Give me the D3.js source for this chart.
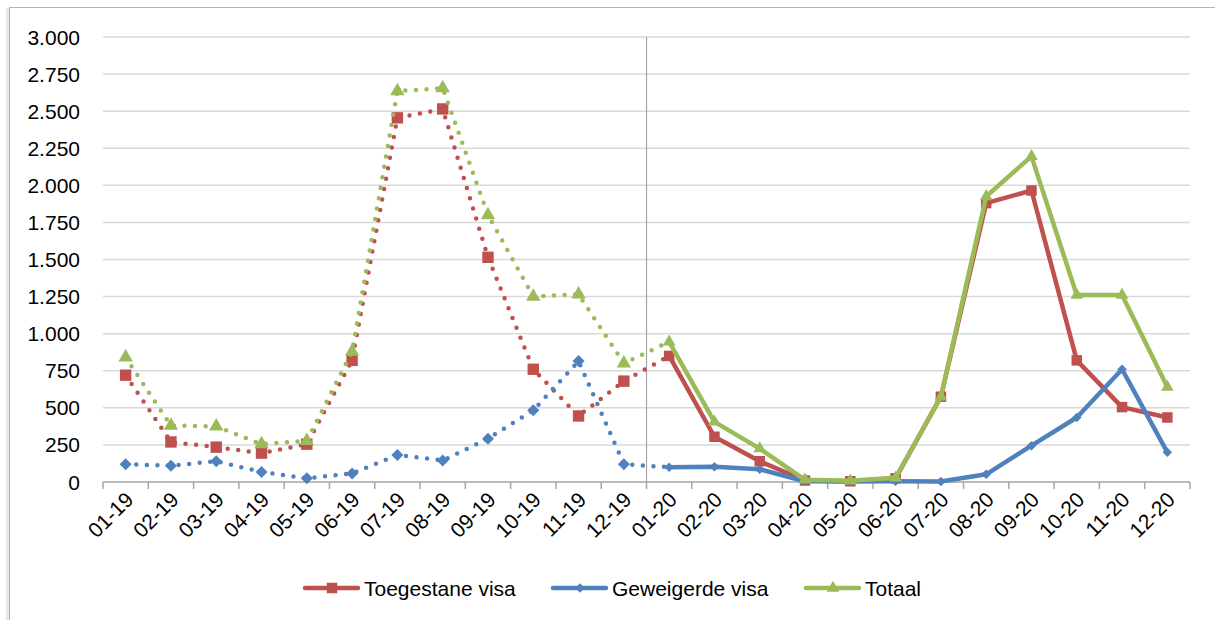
<!DOCTYPE html>
<html>
<head>
<meta charset="utf-8">
<script src="https://cdn.jsdelivr.net/npm/d3@7"></script>
<style>
  body { margin: 0; background: #fff; }
  text { font-family: "Liberation Sans", Arial, sans-serif; fill: #000; }
</style>
</head>
<body>
<svg id="chart"></svg>
<script>
const width = 1215;
const height = 620;

const months = ["01-19", "02-19", "03-19", "04-19", "05-19", "06-19", "07-19", "08-19", "09-19", "10-19", "11-19", "12-19",
                "01-20", "02-20", "03-20", "04-20", "05-20", "06-20", "07-20", "08-20", "09-20", "10-20", "11-20", "12-20"];

const toegestane = [720, 270, 235, 195, 255, 820, 2455, 2515, 1515, 760, 445, 680,
                    850, 305, 140, 10, 5, 25, 575, 1880, 1965, 820, 505, 435];
const geweigerd = [120, 110, 140, 68, 25, 58, 182, 145, 292, 483, 815, 120,
                   100, 103, 86, 5, 3, 5, 3, 52, 245, 435, 760, 200];
const totaal = [840, 380, 375, 255, 278, 880, 2635, 2655, 1800, 1250, 1265, 800,
                945, 405, 225, 15, 8, 28, 575, 1925, 2195, 1260, 1260, 640];

const yTicks = [0, 250, 500, 750, 1000, 1250, 1500, 1750, 2000, 2250, 2500, 2750, 3000];

const series = [
  {name: "Toegestane visa", values: toegestane, color: "#C0504D", symbol: d3.symbolSquare, size: 130, size2: 110, rot: 0},
  {name: "Geweigerde visa", values: geweigerd, color: "#4F81BD", symbol: d3.symbolSquare, size: 72, size2: 45, rot: 45},
  {name: "Totaal", values: totaal, color: "#9BBB59", symbol: d3.symbolTriangle, size: 90, size2: 70, rot: 0}
];

const svg = d3.select("#chart")
              .attr("width", width)
              .attr("height", height);

// chart frame with a soft shadow on the left
svg.append("rect")
   .attr("x", 6).attr("y", 8).attr("width", 4).attr("height", 700)
   .style("fill", "#e6e6e6");
svg.append("rect")
   .attr("x", 9.5).attr("y", 7.5).attr("width", 1300).attr("height", 700)
   .style("fill", "#fff")
   .style("stroke", "#b3b3b3");

const margin = {top: 37, right: 25, bottom: 138, left: 103};
const x = d3.scaleBand()
            .domain(months)
            .range([margin.left, 1190]);
const y = d3.scaleLinear()
            .domain([0, 3000])
            .range([482, margin.top]);

const fmt = d => d3.format(",")(d).replace(/,/g, ".");

// gridlines
svg.append("g")
   .selectAll("line")
   .data(yTicks.slice(1))
   .enter()
   .append("line")
   .attr("x1", margin.left)
   .attr("x2", 1190)
   .attr("y1", d => y(d))
   .attr("y2", d => y(d))
   .style("stroke", "#d9d9d9")
   .style("stroke-width", 1.5);

// y labels
svg.append("g")
   .selectAll("text")
   .data(yTicks)
   .enter()
   .append("text")
   .attr("x", 80)
   .attr("y", d => y(d))
   .attr("dy", "0.36em")
   .attr("text-anchor", "end")
   .style("font-size", "21px")
   .text(fmt);

// x axis
const xAxis = svg.append("g")
                 .attr("transform", "translate(0," + y(0) + ")");
xAxis.append("line")
     .attr("x1", margin.left).attr("x2", 1190)
     .style("stroke", "#a6a6a6").style("stroke-width", 1.5);
xAxis.selectAll(".tick")
     .data(months.concat(["end"]))
     .enter()
     .append("line")
     .attr("x1", (d, i) => margin.left + i * x.step())
     .attr("x2", (d, i) => margin.left + i * x.step())
     .attr("y1", 0).attr("y2", 7)
     .style("stroke", "#a6a6a6").style("stroke-width", 1.5);
xAxis.selectAll("text")
     .data(months)
     .enter()
     .append("text")
     .attr("text-anchor", "end")
     .attr("transform", d => "translate(" + (x(d) + x.bandwidth() / 2 + 9) + ",19) rotate(-45)")
     .style("font-size", "21px")
     .text(d => d);

// year separator
svg.append("line")
   .attr("x1", x("01-20")).attr("x2", x("01-20"))
   .attr("y1", margin.top).attr("y2", y(0))
   .style("stroke", "#a6a6a6").style("stroke-width", 1.2);

const cx = i => x(months[i]) + x.bandwidth() / 2;
const line = d3.line()
               .x(d => cx(d.i))
               .y(d => y(d.v));

series.forEach(s => {
  const pts = s.values.map((v, i) => ({i: i, v: v}));
  const g = svg.append("g");
  g.append("path")
   .attr("d", line(pts.slice(0, 13)))
   .style("fill", "none")
   .style("stroke", s.color)
   .style("stroke-width", 4.5)
   .style("stroke-linecap", "round")
   .style("stroke-dasharray", "0 10.6");
  g.append("path")
   .attr("d", line(pts.slice(12)))
   .style("fill", "none")
   .style("stroke", s.color)
   .style("stroke-width", 4.5)
   .style("stroke-linejoin", "round");
  g.selectAll("path.m")
   .data(pts)
   .enter()
   .append("path")
   .attr("class", "m")
   .attr("d", d => d3.symbol().type(s.symbol).size(d.i < 12 ? s.size : s.size2)())
   .attr("transform", d => "translate(" + cx(d.i) + "," + y(d.v) + ") rotate(" + s.rot + ")")
   .style("fill", s.color);
});

// legend
const legendX = [305, 553, 806];
const legend = svg.append("g");
series.forEach((s, i) => {
  const lg = legend.append("g").attr("transform", "translate(" + legendX[i] + ",588)");
  lg.append("line")
    .attr("x1", 0).attr("x2", 53)
    .style("stroke", s.color)
    .style("stroke-width", 4.5)
    .style("stroke-linecap", "round");
  lg.append("path")
    .attr("d", d3.symbol().type(s.symbol).size(s.size2)())
    .attr("transform", "translate(27,0) rotate(" + s.rot + ")")
    .style("fill", s.color);
  lg.append("text")
    .attr("x", 59)
    .attr("dy", "0.36em")
    .style("font-size", "21px")
    .text(s.name);
});
</script>
</body>
</html>
